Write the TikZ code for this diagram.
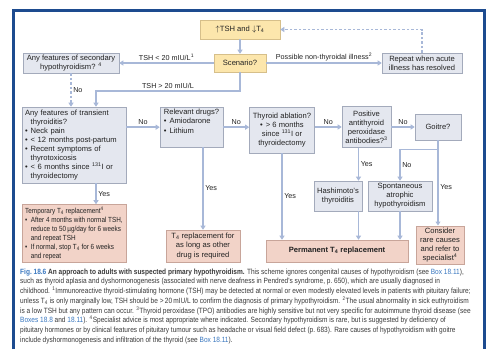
\documentclass[tikz,border=0pt]{standalone}
\usepackage{fontspec}
\setmainfont{Liberation Sans}
\newfontfamily\capfont[FakeStretch=0.86]{Liberation Sans}
\newfontfamily\narrowfont[FakeStretch=0.86]{Liberation Sans}
\usetikzlibrary{arrows.meta}

\definecolor{framec}{HTML}{1D4B8F}
\definecolor{greyfill}{HTML}{E4E7EF}
\definecolor{greyline}{HTML}{A3AABB}
\definecolor{yelfill}{HTML}{FCE6AC}
\definecolor{yelline}{HTML}{D6BF8A}
\definecolor{pinkfill}{HTML}{F2D3C8}
\definecolor{pinkline}{HTML}{C8A59A}
\definecolor{arrowc}{HTML}{A8B8D8}
\definecolor{capblue}{HTML}{3A78C0}
\definecolor{textc}{HTML}{222222}
\definecolor{capgrey}{HTML}{3A3A3A}

\newcommand\bitem{\makebox[0.75em][l]{\textbullet}}
\newcommand\bcont{\hspace*{0.75em}}

\begin{document}
\begin{tikzpicture}[x=1pt,y=-1pt,
  box/.style={draw=greyline,fill=greyfill,line width=0.6pt,inner sep=2pt,
    text=textc,font=\fontsize{7.6}{9.1}\selectfont,align=center},
  ybox/.style={box,draw=yelline,fill=yelfill},
  pbox/.style={box,draw=pinkline,fill=pinkfill},
  link/.style={draw=arrowc,line width=1.5pt},
  arr/.style={link,-{Triangle[length=4pt,width=5pt]}},
  dasharr/.style={arr,dash pattern=on 2.5pt off 2pt},
  lab/.style={font=\fontsize{7.2}{8}\selectfont,text=textc,inner sep=1.5pt}]

  \useasboundingbox (0,0) rectangle (490,349);
  \fill[white] (0,0) rectangle (490,349);
  \draw[framec,line width=3.5pt] (13.5,349) -- (13.5,10.5) -- (484.5,10.5) -- (484.5,349);

  % top row
  \node[ybox,minimum width=80pt,minimum height=19pt] (tsh) at (240,29.5) {$\uparrow$TSH and $\downarrow$T\textsubscript{4}};
  \node[ybox,minimum width=52pt,minimum height=18pt] (scen) at (240,63) {Scenario?};
  \node[box,minimum width=96pt,minimum height=20pt] (second) at (71,63) {Any features of secondary\\hypothyroidism? \textsuperscript{4}};
  \node[box,minimum width=80pt,minimum height=20pt] (recheck) at (422,63) {Repeat when acute\\illness has resolved};

  % middle row
  \node[box,align=left,minimum width=104pt,minimum height=76pt,text width=98pt] (trans) at (74,145) {Any features of transient\\\bcont thyroiditis?\\\bitem Neck pain\\\bitem < 12 months post-partum\\\bitem Recent symptoms of\\\bcont thyrotoxicosis\\\bitem < 6 months since \textsuperscript{131}I or\\\bcont thyroidectomy};
  \node[box,align=left,anchor=north,minimum width=63pt,text depth=12pt] (drugs) at (191.5,107) {Relevant drugs?\\\bitem Amiodarone\\\bitem Lithium};
  \node[box,minimum width=65pt,minimum height=46pt] (ablat) at (282,130) {Thyroid ablation?\\\bitem > 6 months\\since \textsuperscript{131}I or\\thyroidectomy};
  \node[box,minimum width=49pt,minimum height=41pt] (tpo) at (366.5,127) {Positive\\antithyroid\\peroxidase\\antibodies?\textsuperscript{3}};
  \node[box,minimum width=46pt,minimum height=26pt] (goitre) at (438,127) {Goitre?};
  \node[box,minimum width=48pt,minimum height=30pt] (hashi) at (338,196) {Hashimoto's\\thyroiditis};
  \node[box,minimum width=64pt,minimum height=30pt] (spont) at (400,196) {Spontaneous\\atrophic\\hypothyroidism};

  % bottom row
  \node[pbox,align=left,minimum width=104pt,minimum height=58pt,font=\narrowfont\fontsize{7.4}{8.9}\selectfont] (temp) at (74,233.5) {Temporary T\textsubscript{4} replacement\textsuperscript{4}\\\bitem After 4 months with normal TSH,\\\bcont reduce to 50\,µg/day for 6 weeks\\\bcont and repeat TSH\\\bitem If normal, stop T\textsubscript{4} for 6 weeks\\\bcont and repeat};
  \node[pbox,minimum width=74pt,minimum height=32pt] (drugrep) at (203,246) {T\textsubscript{4} replacement for\\as long as other\\drug is required};
  \node[pbox,minimum width=142pt,minimum height=22pt,font=\bfseries\fontsize{7.6}{9.1}\selectfont] (perm) at (337,251) {Permanent T\textsubscript{4} replacement};
  \node[pbox,minimum width=48pt,minimum height=37pt] (consider) at (440,245) {Consider\\rare causes\\and refer to\\specialist\textsuperscript{4}};

  % connectors
  \coordinate (tshbend) at (96,91);
  \coordinate (hashx) at ([xshift=-8pt]tpo.south);
  \coordinate (goitrej) at ([yshift=-9pt]goitre.south);

  \draw[arr] (tsh) -- (scen);
  \draw[arr] (scen) -- node[lab,above]{TSH < 20 mIU/L\textsuperscript{1}} (second);
  \draw[arr] (scen) -- node[lab,above]{Possible non-thyroidal illness\textsuperscript{2}} (recheck);
  \draw[dasharr] (recheck.north) |- (tsh.east);
  \draw[arr] (scen.south) -- (scen.south |- tshbend) -- node[lab,above]{TSH > 20 mIU/L} (tshbend) -- (tshbend |- trans.north);
  \draw[dasharr] (second) -- node[lab,right]{No} (second.south |- trans.north);

  \draw[arr] (trans.east |- drugs.west) -- node[lab,above]{No} (drugs.west);
  \draw[arr] (drugs.east) -- node[lab,above]{No} (drugs.east -| ablat.west);
  \draw[arr] (ablat.east |- tpo) -- node[lab,above]{No} (tpo);
  \draw[arr] (tpo) -- node[lab,above]{No} (goitre);

  \draw[arr] (tshbend |- trans.south) -- node[lab,right]{Yes} (tshbend |- temp.north);
  \draw[arr] (drugrep |- drugs.south) -- node[lab,right]{Yes} (drugrep);
  \draw[arr] (ablat) -- node[lab,right]{Yes} (ablat |- perm.north);
  \draw[arr] (hashx) -- node[lab,right]{Yes} (hashx |- hashi.north);
  \draw[link] (goitre) -- (goitrej);
  \draw[arr] (goitrej) -| node[lab,pos=0.75,right]{No} (spont);
  \draw[arr] (goitrej) -- node[lab,right]{Yes} (goitrej |- consider.north);
  \draw[arr] (hashx |- hashi.south) -- (hashx |- perm.north);
  \draw[arr] (spont) -- (spont |- perm.north);

  % caption
  \node[anchor=north west,inner sep=0pt,align=left,text=capgrey,font=\capfont\fontsize{7.6}{9.7}\selectfont] (caption) at (20,268.5) {%
    {\bfseries\color{capblue}Fig.~18.6} \textbf{An approach to adults with suspected primary hypothyroidism.} This scheme ignores congenital causes of hypothyroidism (see {\color{capblue}Box 18.11}),\\
    such as thyroid aplasia and dyshormonogenesis (associated with nerve deafness in Pendred's syndrome, p.~650), which are usually diagnosed in\\
    childhood. \textsuperscript{1}Immunoreactive thyroid-stimulating hormone (TSH) may be detected at normal or even modestly elevated levels in patients with pituitary failure;\\
    unless T\textsubscript{4} is only marginally low, TSH should be >\,20\,mIU/L to confirm the diagnosis of primary hypothyroidism. \textsuperscript{2}The usual abnormality in sick euthyroidism\\
    is a low TSH but any pattern can occur. \textsuperscript{3}Thyroid peroxidase (TPO) antibodies are highly sensitive but not very specific for autoimmune thyroid disease (see\\
    {\color{capblue}Boxes 18.8} and {\color{capblue}18.11}). \textsuperscript{4}Specialist advice is most appropriate where indicated. Secondary hypothyroidism is rare, but is suggested by deficiency of\\
    pituitary hormones or by clinical features of pituitary tumour such as headache or visual field defect (p.~683). Rare causes of hypothyroidism with goitre\\
    include dyshormonogenesis and infiltration of the thyroid (see {\color{capblue}Box 18.11}).};
\end{tikzpicture}
\end{document}
